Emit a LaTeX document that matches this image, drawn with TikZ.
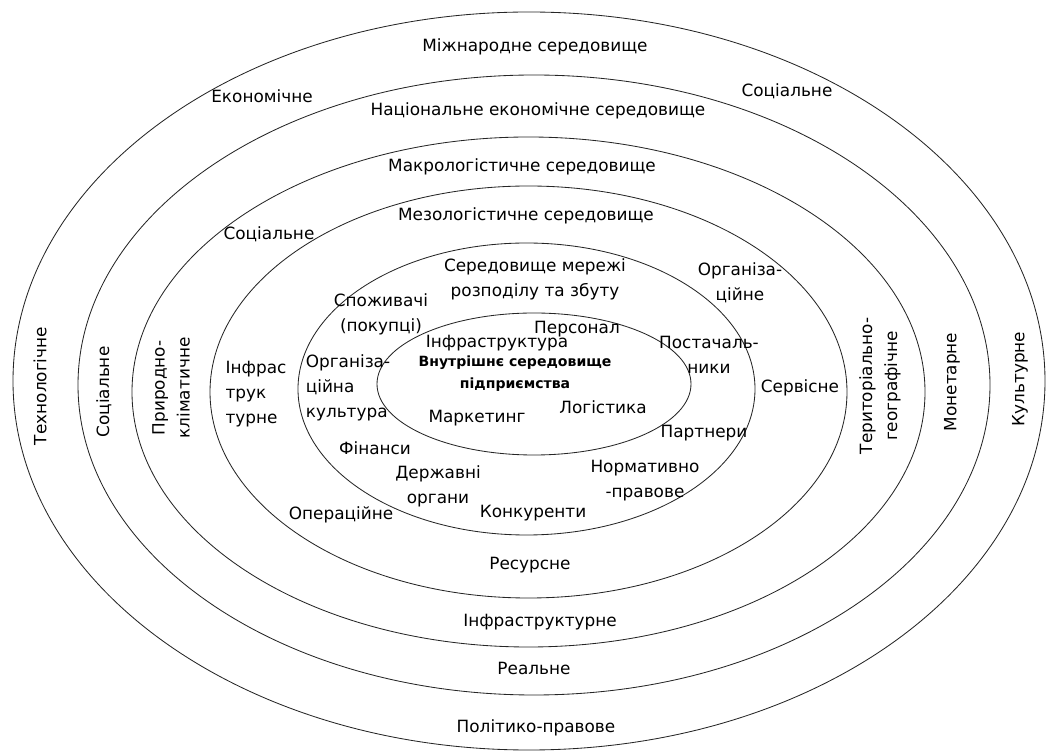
\documentclass[tikz,border=0pt]{standalone}
\usepackage{fontspec}
\setmainfont{DejaVu Sans}
\usetikzlibrary{positioning}

\begin{document}
\begin{tikzpicture}[x=0.025cm,y=-0.025cm,
  ring/.style={draw=black!85,line width=0.6pt},
  lbl/.style={inner sep=1pt,align=center,font=\fontsize{12}{17.8}\selectfont},
  lbll/.style={lbl,align=left},
  vlbl/.style={lbl,rotate=90},
  core/.style={inner sep=1pt,align=center,font=\fontsize{10}{15.5}\selectfont\bfseries}]
\useasboundingbox (0,0) rectangle (1054,753);
% rings, outside to inside
\draw[ring] (529,381)   ellipse [x radius=516,   y radius=369];
\draw[ring] (534,385)   ellipse [x radius=456,   y radius=310];
\draw[ring] (528.5,392) ellipse [x radius=396.5, y radius=255];
\draw[ring] (528.5,392) ellipse [x radius=318.5, y radius=206];
\draw[ring] (526.5,389) ellipse [x radius=228.5, y radius=146];
\draw[ring] (534,384)   ellipse [x radius=157,   y radius=71];

% outer ring
\node[lbl]  (intl)   at (535,47)  {Міжнародне середовище};
\node[lbl]  (econ)   at (262,96)  {Економічне};
\node[lbl]  (socA)   at (787,91)  {Соціальне};
\node[vlbl] (tech)   at (40,386)  {Технологічне};
\node[vlbl] (cult)   at (1020,379) {Культурне};
\node[lbl]  (polit)  at (536,728) {Політико-правове};
% national ring
\node[lbl]  (natl)   at (538,111) {Національне економічне середовище};
\node[vlbl] (socB)   at (104,392) {Соціальне};
\node[vlbl] (monet)  at (952,382) {Монетарне};
\node[lbl]  (real)   at (534,668) {Реальне};
% macro ring
\node[lbl]  (macro)  at (522,167) {Макрологістичне середовище};
\node[vlbl] (nature) at (171,388) {Природно-\\кліматичне};
\node[vlbl] (terr)   at (880,386) {Територіально-\\географічне};
\node[lbl]  (infraA) at (540,622) {Інфраструктурне};
% meso ring
\node[lbl]  (meso)   at (526,216) {Мезологістичне середовище};
\node[lbl]  (socC)   at (269,234) {Соціальне};
\node[lbl]  (orgA)   at (740,283) {Організа-\\ційне};
\node[lbll] (infraB) at (256,394) {Інфрас\\трук\\турне};
\node[lbl]  (serv)   at (800,388) {Сервісне};
\node[lbl]  (oper)   at (341,515) {Операційне};
\node[lbl]  (res)    at (530,565) {Ресурсне};
% distribution network ring
\node[lbl]  (net)    at (535,279) {Середовище мережі\\розподілу та збуту};
\node[lbl]  (cust)   at (381,314) {Споживачі\\(покупці)};
\node[lbl]  (supp)   at (709,355) {Постачаль-\\ники};
\node[lbll] (orgB)   at (348,388) {Організа-\\ційна\\культура};
\node[lbl]  (partn)  at (704,433) {Партнери};
\node[lbl]  (fin)    at (375,448) {Фінанси};
\node[lbl]  (gov)    at (438,486) {Державні\\органи};
\node[lbl]  (norm)   at (645,481) {Нормативно\\-правове};
\node[lbl]  (comp)   at (533,513) {Конкуренти};
% internal environment
\node[lbl]  (staff)  at (577,329) {Персонал};
\node[lbl]  (infraC) at (497,343) {Інфраструктура};
\node[core] (inner)  at (515,374) {Внутрішнє середовище\\підприємства};
\node[lbl]  (logi)   at (603,407) {Логістика};
\node[lbl]  (mark)   at (477,418) {Маркетинг};
\end{tikzpicture}
\end{document}
